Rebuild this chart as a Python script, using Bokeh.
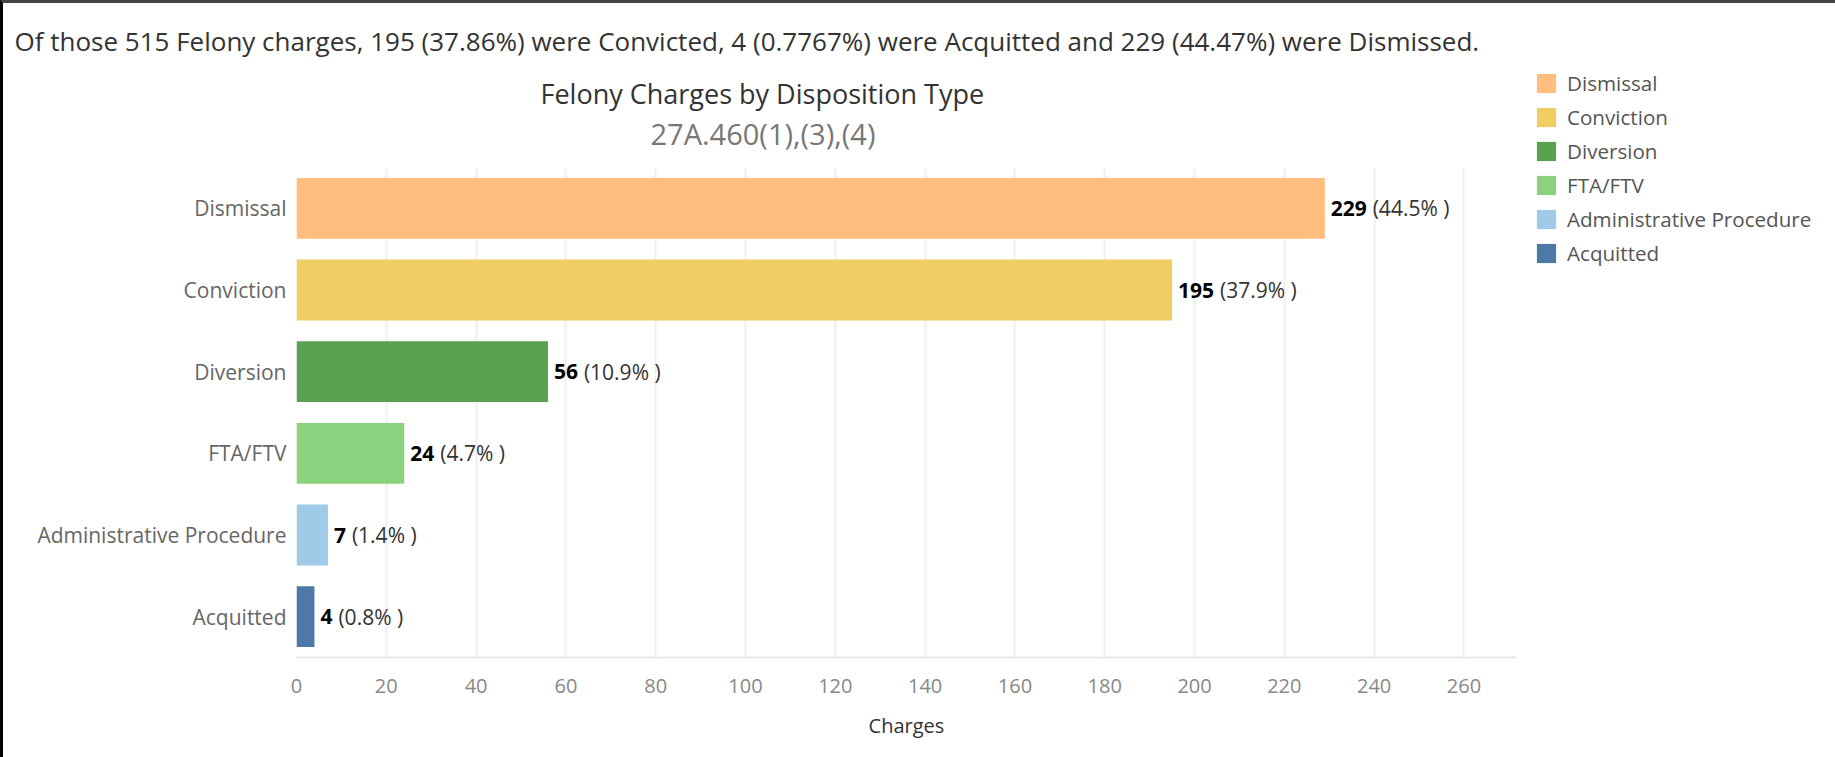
from bokeh.plotting import figure
from bokeh.models import (FactorRange, Range1d, Title, ColumnDataSource, FixedTicker,
                          InlineStyleSheet)
from bokeh.embed import file_html
from bokeh.resources import INLINE
from bokeh.core.properties import value

# ---- data ----
categories = ["Dismissal", "Conviction", "Diversion", "FTA/FTV",
              "Administrative Procedure", "Acquitted"]
charges = [229, 195, 56, 24, 7, 4]
colors = ["#FFBE7D", "#F1CE63", "#59A14F", "#8CD17D", "#A0CBE8", "#4E79A7"]
x_ticks = [0, 20, 40, 60, 80, 100, 120, 140, 160, 180, 200, 220, 240, 260]
chart_title = "Felony Charges by Disposition Type"
chart_subtitle = "27A.460(1),(3),(4)"
x_axis_label = "Charges"

total = sum(charges)
pcts = [c / total * 100 for c in charges]
cnt = dict(zip(categories, charges))


def pct4(v):
    return f"{v / total * 100:.4g}"


sentence = (f"Of those {total} Felony charges, {cnt['Conviction']} ({pct4(cnt['Conviction'])}%) were Convicted, "
            f"{cnt['Acquitted']} ({pct4(cnt['Acquitted'])}%) were Acquitted and "
            f"{cnt['Dismissal']} ({pct4(cnt['Dismissal'])}%) were Dismissed.")

FONT = "Open Sans"
VAL_FS = 21
digit_w = 0.57 * VAL_FS

src = ColumnDataSource(dict(
    cat=categories,
    val=charges,
    color=colors,
    val_str=[str(c) for c in charges],
    pct_str=[f"({p:.1f}% )" for p in pcts],
    pct_off=[6 + digit_w * len(str(c)) + 6 for c in charges],
))

FL, FT, FR, FB = 296, 167, 1516, 657   # frame edges on the page
XMAX = 271.7
W, H = 1835, 757
p = figure(width=None, height=None, frame_width=FR - FL, frame_height=FB - FT,
           y_range=FactorRange(*reversed(categories)),
           x_range=Range1d(0, XMAX),
           output_backend="svg", toolbar_location=None,
           min_border_left=FL, min_border_right=W - FR,
           min_border_top=FT, min_border_bottom=H - FB)
p.outline_line_color = None
p.background_fill_color = "white"
p.border_fill_color = "white"
p.stylesheets = [InlineStyleSheet(css=(
    ":host::after{content:'';position:absolute;left:0;top:0;right:0;bottom:0;"
    "border-left:3px solid #000;border-right:2px solid #000;border-top:3px solid #444;"
    "pointer-events:none;z-index:10;}"))]

p.hbar(y="cat", left=0, right="val", height=0.745, fill_color="color",
       line_color=None, legend_field="cat", source=src)

p.text(x="val", y="cat", text="val_str", x_offset=6, text_baseline="middle",
       text_align="left", text_font=value(FONT), text_font_style="bold",
       text_font_size=f"{VAL_FS}px", text_color="#000000", source=src)
p.text(x="val", y="cat", text="pct_str", x_offset="pct_off", text_baseline="middle",
       text_align="left", text_font=value(FONT),
       text_font_size=f"{VAL_FS}px", text_color="#333333", source=src)

# axes
p.xaxis.ticker = FixedTicker(ticks=x_ticks)
p.xaxis.axis_label = x_axis_label
p.xaxis.axis_label_text_font = FONT
p.xaxis.axis_label_text_font_style = "normal"
p.xaxis.axis_label_text_font_size = "20px"
p.xaxis.axis_label_text_color = "#333333"
p.xaxis.axis_label_standoff = 16
p.xaxis.major_label_text_font = FONT
p.xaxis.major_label_text_font_size = "20px"
p.xaxis.major_label_text_color = "#888888"
p.xaxis.major_label_standoff = 15
p.xaxis.major_tick_line_color = None
p.xaxis.minor_tick_line_color = None
p.xaxis.axis_line_color = "#E8E8E8"
p.xaxis.axis_line_width = 2

p.yaxis.axis_line_color = None
p.yaxis.major_tick_line_color = None
p.yaxis.minor_tick_line_color = None
p.yaxis.major_tick_out = 0
p.yaxis.major_tick_in = 0
p.yaxis.major_label_text_font = FONT
p.yaxis.major_label_text_font_size = "21px"
p.yaxis.major_label_text_color = "#666666"
p.yaxis.major_label_standoff = 10

p.xgrid.ticker = FixedTicker(ticks=x_ticks)
p.xgrid.grid_line_color = "#EFEFEF"
p.xgrid.grid_line_width = 2
p.ygrid.grid_line_color = None

# legend -> right side panel (side panels are not clipped to the frame)
lg = p.legend[0]
p.center = [r for r in p.center if r is not lg]
lg.location = (1534 - FR, FB - 267)
lg.glyph_width = 24
lg.glyph_height = 24
lg.label_height = 24
lg.spacing = 6
lg.label_standoff = 9
lg.label_text_font = FONT
lg.label_text_font_size = "20.6px"
lg.label_text_color = "#555555"
lg.border_line_color = None
lg.background_fill_alpha = 0
lg.padding = 0
lg.margin = 0
p.add_layout(lg, "right")

# header titles, stacked upward from the frame (first added = nearest)
p.add_layout(Title(text=" ", text_font=FONT, text_font_size="1px", standoff=12), "above")
p.add_layout(Title(text=chart_subtitle, align="left", offset=650 - FL,
                   text_font=FONT, text_font_size="29px", text_font_style="normal",
                   text_color="#777777", standoff=0), "above")
p.add_layout(Title(text=chart_title, align="left", offset=540 - FL,
                   text_font=FONT, text_font_size="27px", text_font_style="normal",
                   text_color="#333333", standoff=0), "above")
p.add_layout(Title(text=sentence, align="left", offset=14 - FL,
                   text_font=FONT, text_font_size="26px", text_font_style="normal",
                   text_color="#333333", standoff=27), "above")

open("out.html", "w").write(file_html(p, INLINE))
